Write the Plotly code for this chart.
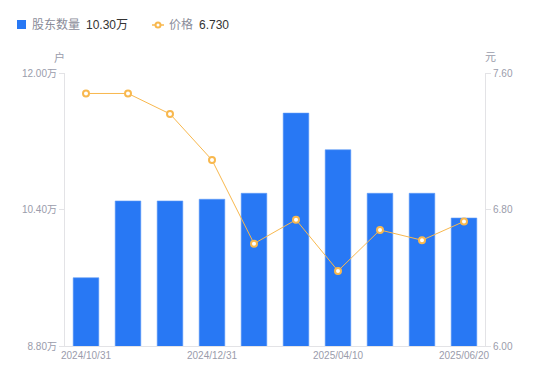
import plotly.graph_objects as go

dates = ["2024/10/31", "2024/11/20", "2024/11/30", "2024/12/31", "2025/01/10",
         "2025/03/10", "2025/04/10", "2025/04/30", "2025/05/20", "2025/06/20"]
holders_wan = [9.60, 10.50, 10.50, 10.52, 10.59, 11.53, 11.10, 10.59, 10.59, 10.30]
price = [7.48, 7.48, 7.36, 7.09, 6.60, 6.74, 6.44, 6.68, 6.62, 6.73]
x_ticks = ["2024/10/31", "2024/12/31", "2025/04/10", "2025/06/20"]
left_ticks = [8.80, 10.40, 12.00]
right_ticks = [6.00, 6.80, 7.60]

gray = "#9a9cab"
axis_c = "#e3e3e6"
bar_c = "#2878f4"
line_c = "#f8b84e"
font = "Liberation Sans, Arial, Noto Sans CJK SC, sans-serif"

# page body adds an 8px offset; compensate so the plot lands where the reference has it
OFF = 8
W, H = 550 - OFF, 381 - OFF
L, R, T, B = 65 - OFF, 65, 73 - OFF, 35
PW, PH = W - L - R, H - T - B


def px(x):
    return (x - OFF - L) / PW


def py(y):
    return (H - B - (y - OFF)) / PH


fig = go.Figure()
fig.add_trace(go.Bar(
    x=dates, y=holders_wan, width=0.61,
    marker=dict(color=bar_c, line=dict(color="#5e9af6", width=0.6)),
    name="股东数量", yaxis="y", showlegend=False,
))
fig.add_trace(go.Scatter(
    x=dates, y=price, mode="lines+markers",
    line=dict(color=line_c, width=1),
    marker=dict(size=6, color="white", line=dict(color=line_c, width=2)),
    name="价格", yaxis="y2", showlegend=False,
))

shapes = [
    dict(type="rect", xref="paper", yref="paper", x0=px(17), x1=px(26), y0=py(29), y1=py(20),
         fillcolor=bar_c, line=dict(width=0)),
    dict(type="line", xref="paper", yref="paper", x0=px(152), x1=px(164), y0=py(25), y1=py(25),
         line=dict(color=line_c, width=1.5)),
    dict(type="circle", xref="paper", yref="paper", x0=px(155.5), x1=px(160.5), y0=py(27.5), y1=py(22.5),
         fillcolor="white", line=dict(color=line_c, width=2)),
]


def ann(text, x, y, color, size=12, anchor="left"):
    return dict(text=text, xref="paper", yref="paper", x=px(x), y=py(y), showarrow=False,
                font=dict(size=size, color=color), xanchor=anchor, yanchor="middle")


annotations = [
    ann("股东数量", 30, 25, "#8a8c99"),
    ann("10.30万", 84, 25, "#333333"),
    ann("价格", 167, 25, "#8a8c99"),
    ann("6.730", 197, 25, "#333333"),
    ann("户", 59, 57, gray, size=11, anchor="center"),
    ann("元", 490, 57, gray, size=11, anchor="center"),
]

fig.update_layout(
    width=W, height=H,
    margin=dict(l=L, r=R, t=T, b=B, autoexpand=False),
    paper_bgcolor="white", plot_bgcolor="white",
    font=dict(family=font, size=10, color=gray),
    showlegend=False,
    xaxis=dict(type="category", range=[-0.5, 9.5], tickmode="array", tickvals=x_ticks, ticktext=x_ticks,
               showgrid=False, showline=True, linecolor=axis_c, linewidth=1,
               ticks="", tickfont=dict(size=10, color=gray), zeroline=False),
    yaxis=dict(range=[8.80, 12.00], tickvals=left_ticks,
               ticktext=[f"{v:.2f}万" for v in left_ticks],
               showgrid=False, showline=True, linecolor=axis_c, linewidth=1,
               ticks="outside", ticklen=5, tickcolor=axis_c,
               tickfont=dict(size=10, color=gray), zeroline=False),
    yaxis2=dict(range=[6.00, 7.60], tickvals=right_ticks,
                ticktext=[f"{v:.2f}" for v in right_ticks],
                overlaying="y", side="right",
                showgrid=False, showline=True, linecolor=axis_c, linewidth=1,
                ticks="outside", ticklen=5, tickcolor=axis_c,
                tickfont=dict(size=10, color=gray), zeroline=False),
    shapes=shapes,
    annotations=annotations,
)

fig.write_html("out.html")
